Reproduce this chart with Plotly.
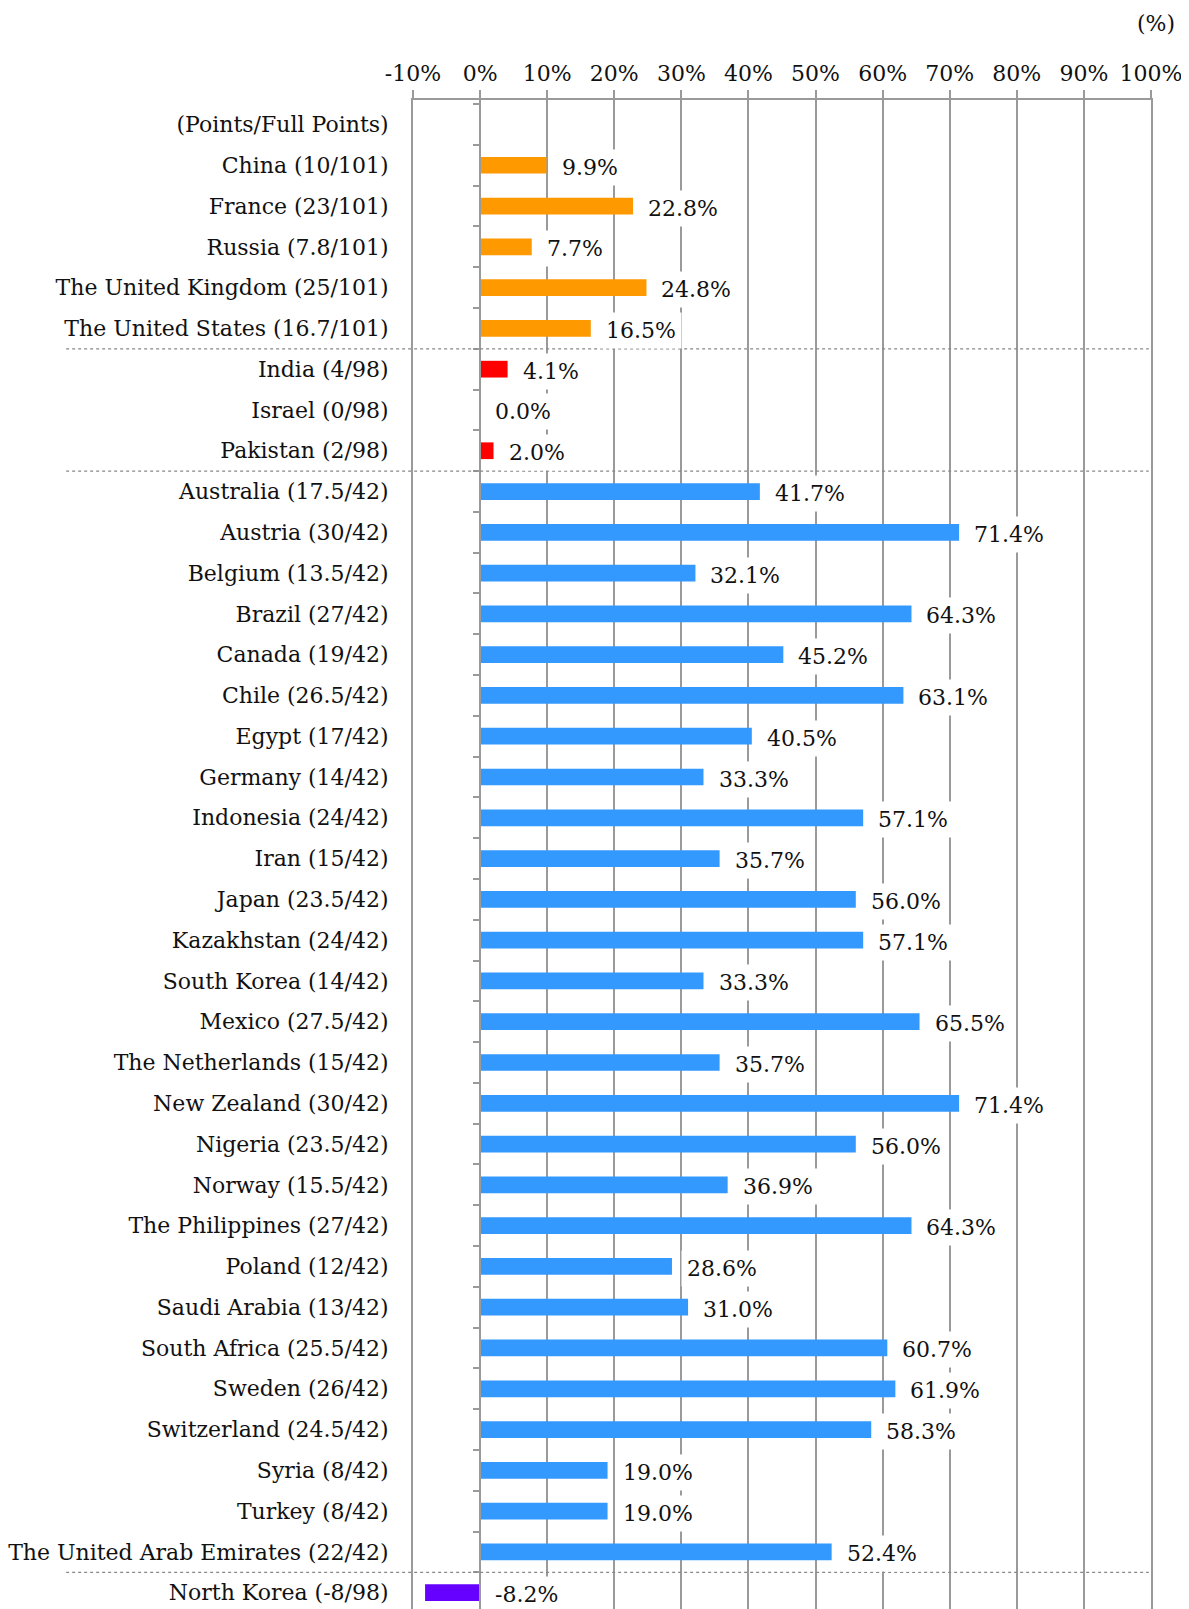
import plotly.graph_objects as go

# ---------------- data ----------------
header = "(Points/Full Points)"

p5_names = ["China", "France", "Russia", "The United Kingdom", "The United States"]
p5_points = [10, 23, 7.8, 25, 16.7]
p5_full = 101
p5_pct = [9.9, 22.8, 7.7, 24.8, 16.5]

np_names = ["India", "Israel", "Pakistan"]
np_points = [4, 0, 2]
np_full = 98
np_pct = [4.1, 0.0, 2.0]

nn_names = ["Australia", "Austria", "Belgium", "Brazil", "Canada", "Chile", "Egypt",
            "Germany", "Indonesia", "Iran", "Japan", "Kazakhstan", "South Korea",
            "Mexico", "The Netherlands", "New Zealand", "Nigeria", "Norway",
            "The Philippines", "Poland", "Saudi Arabia", "South Africa", "Sweden",
            "Switzerland", "Syria", "Turkey", "The United Arab Emirates"]
nn_points = [17.5, 30, 13.5, 27, 19, 26.5, 17, 14, 24, 15, 23.5, 24, 14, 27.5, 15,
             30, 23.5, 15.5, 27, 12, 13, 25.5, 26, 24.5, 8, 8, 22]
nn_full = 42
nn_pct = [41.7, 71.4, 32.1, 64.3, 45.2, 63.1, 40.5, 33.3, 57.1, 35.7, 56.0, 57.1,
          33.3, 65.5, 35.7, 71.4, 56.0, 36.9, 64.3, 28.6, 31.0, 60.7, 61.9, 58.3,
          19.0, 19.0, 52.4]

nk_names = ["North Korea"]
nk_points = [-8]
nk_full = 98
nk_pct = [-8.2]

x_ticks = [-10, 0, 10, 20, 30, 40, 50, 60, 70, 80, 90, 100]

colors = {"p5": "#FF9900", "np": "#FF0000", "nn": "#3399FF", "nk": "#6600FF"}

FONT = "DejaVu Serif"
FS = 22
TXT = "#111111"


def make_labels(names, points, full):
    return [f"{n} ({p:g}/{full})" for n, p in zip(names, points)]


groups = [
    ("p5", make_labels(p5_names, p5_points, p5_full), p5_pct),
    ("np", make_labels(np_names, np_points, np_full), np_pct),
    ("nn", make_labels(nn_names, nn_points, nn_full), nn_pct),
    ("nk", make_labels(nk_names, nk_points, nk_full), nk_pct),
]

all_labels = [header]
for _, lab, _ in groups:
    all_labels += lab
n = len(all_labels)

fig = go.Figure()

# invisible traces registering the category order on both y axes
fig.add_trace(go.Scatter(x=[0] * n, y=all_labels, mode="markers",
                         marker=dict(opacity=0), hoverinfo="skip", showlegend=False))
fig.add_trace(go.Scatter(x=[0] * n, y=all_labels, mode="markers", yaxis="y2",
                         marker=dict(opacity=0), hoverinfo="skip", showlegend=False))

for key, lab, vals in groups:
    fig.add_trace(go.Bar(x=vals, y=lab, orientation="h", width=0.41,
                         marker=dict(color=colors[key], line=dict(width=0)),
                         showlegend=False, hoverinfo="x+y"))

# value labels with white boxes
annotations = []
for key, lab, vals in groups:
    for l, v in zip(lab, vals):
        annotations.append(dict(
            x=max(v, 0), y=l, xref="x", yref="y", text=f"{v:.1f}%",
            showarrow=False, xanchor="left", yanchor="middle",
            xshift=9, yshift=-2, bgcolor="white", borderpad=5,
            font=dict(family=FONT, size=FS, color=TXT)))

annotations.append(dict(x=1.035, y=1.051, xref="paper", yref="paper", text="(%)",
                        showarrow=False, xanchor="right", yanchor="middle",
                        font=dict(family=FONT, size=FS, color=TXT)))

# dotted separators between groups (between last row of a group and the next)
shapes = []
cum = 1  # header row occupies index 0
for key, lab, _ in groups[:-1]:
    cum += len(lab)
    shapes.append(dict(type="line", xref="paper", yref="y", x0=-0.470, x1=0.997,
                       y0=cum - 0.5, y1=cum - 0.5,
                       line=dict(color="#888888", width=1.2, dash="dot")))

grid = "#9a9a9a"
yrange = [36.4, -0.6]

fig.update_layout(
    width=1181, height=1601,
    margin=dict(l=401, r=38, t=92, b=0),
    plot_bgcolor="white", paper_bgcolor="white",
    font=dict(family=FONT, size=FS, color=TXT),
    xaxis=dict(side="top", range=[-10, 100], tickvals=x_ticks,
               ticktext=[f"{t}%" for t in x_ticks],
               showgrid=True, gridcolor=grid, gridwidth=1.5,
               showline=True, linecolor=grid, linewidth=2,
               ticks="outside", ticklen=8, tickcolor=grid, tickwidth=1.5,
               zeroline=False, fixedrange=True,
               tickfont=dict(family=FONT, size=FS, color=TXT)),
    yaxis=dict(type="category", categoryorder="array", categoryarray=all_labels,
               range=yrange, showgrid=False, zeroline=False,
               showline=True, linecolor=grid, linewidth=2, mirror=True,
               ticks="", ticklabelstandoff=18,
               tickfont=dict(family=FONT, size=FS, color=TXT)),
    yaxis2=dict(type="category", categoryorder="array", categoryarray=all_labels,
                overlaying="y", anchor="free", position=10 / 110, side="left",
                range=yrange, showgrid=False, zeroline=False, showticklabels=False,
                showline=True, linecolor=grid, linewidth=1.5,
                ticks="outside", tickson="boundaries", ticklen=6, tickcolor=grid,
                tickwidth=1.5),
    annotations=annotations,
    shapes=shapes,
)

fig.write_html("out.html")
